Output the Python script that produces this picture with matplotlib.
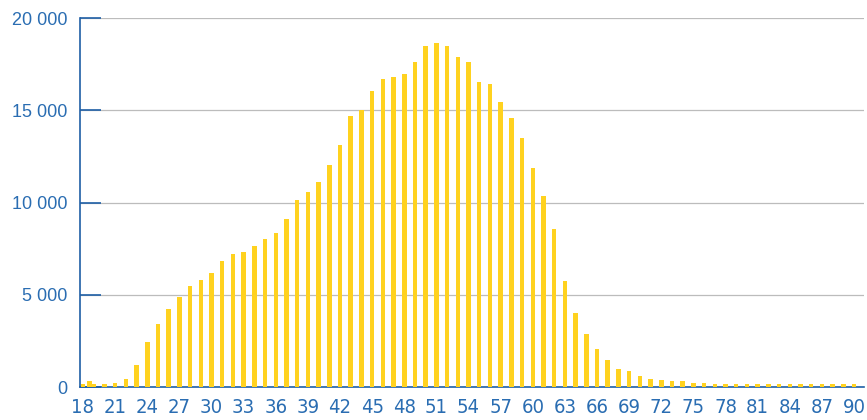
import numpy as np
import matplotlib.pyplot as plt
from matplotlib import font_manager
from matplotlib.ticker import FuncFormatter, MultipleLocator

ages = list(range(18, 91))
counts = [150, 150, 150, 200, 420, 1175, 2440, 3400, 4210, 4880,
          5460, 5800, 6160, 6850, 7190, 7300, 7640, 8040, 8330, 9120,
          10130, 10550, 11110, 12030, 13100, 14670, 15010, 16040, 16690, 16820,
          16960, 17610, 18500, 18660, 18480, 17890, 17610, 16530, 16440, 15460,
          14560, 13500, 11890, 10370, 8580, 5730, 4010, 2870, 2040, 1460,
          975, 850, 600, 430, 360, 325, 310, 235, 200, 180,
          140, 140, 140, 140, 140, 140, 140, 140, 140, 140,
          140, 140, 140]
# odd extra bar sitting just right of the 18 bar
extra_ages = [18]
extra_counts = [330]

bar_color = '#FFD21F'
axis_blue = '#1f5fa6'
label_blue = '#2a6db2'

# narrow face for the age labels if one is around
names = {f.name for f in font_manager.fontManager.ttflist}
narrow = 'Liberation Sans Narrow' if 'Liberation Sans Narrow' in names else 'DejaVu Sans'

fig = plt.figure(figsize=(8.67, 4.2), dpi=100)
ax = fig.add_axes([80 / 867, 33 / 420, 784 / 867, 369 / 420])

ax.bar(ages, counts, width=0.42, color=bar_color, zorder=3)
ax.bar(np.array(extra_ages) + 0.6, extra_counts, width=0.42, color=bar_color, zorder=3)

ax.set_xlim(17.72, 90.93)
ax.set_ylim(0, 20000)
ax.yaxis.set_major_locator(MultipleLocator(5000))
ax.yaxis.set_major_formatter(FuncFormatter(lambda v, p: f'{int(v):,}'.replace(',', ' ')))
ax.set_xticks(ages[::3])

ax.grid(axis='y', color='#bcbcbc', lw=0.9, zorder=0)
for s in ['top', 'right']:
    ax.spines[s].set_visible(False)
for s in ['left', 'bottom']:
    ax.spines[s].set_color(axis_blue)
    ax.spines[s].set_linewidth(1.2)

ax.tick_params(axis='y', direction='in', length=15, width=1.2, color=axis_blue,
               labelcolor=label_blue, labelsize=13, pad=9)
ax.tick_params(axis='x', length=0, labelcolor=label_blue, labelsize=14.5, pad=8)
for lbl in ax.get_xticklabels():
    lbl.set_family([narrow, 'DejaVu Sans'])
    lbl.set_stretch('condensed')
for lbl in ax.get_yticklabels():
    lbl.set_family(['Liberation Sans', 'DejaVu Sans'])

fig.savefig('out.png', dpi=100)
